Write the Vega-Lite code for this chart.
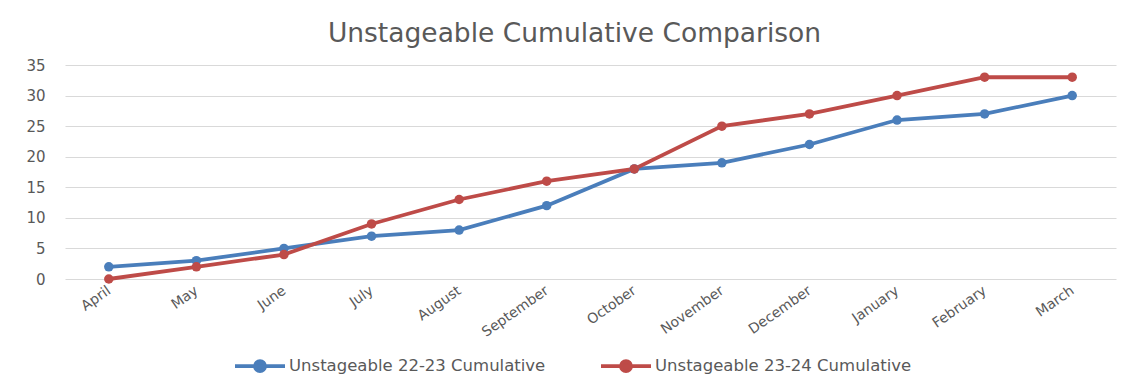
{
  "$schema": "https://vega.github.io/schema/vega-lite/v6.json",
  "width": 1051,
  "height": 214,
  "autosize": {"type": "none"},
  "padding": {"left": 65, "top": 65, "right": 14, "bottom": 104},
  "background": "white",
  "title": {
    "text": "Unstageable Cumulative Comparison",
    "font": "DejaVu Sans",
    "fontSize": 26.5,
    "fontWeight": "normal",
    "color": "#595959",
    "anchor": "middle",
    "dx": -16,
    "offset": 11
  },
  "data": {
    "values": [
      {"month": "April", "series": "Unstageable 22-23 Cumulative", "count": 2},
      {"month": "May", "series": "Unstageable 22-23 Cumulative", "count": 3},
      {"month": "June", "series": "Unstageable 22-23 Cumulative", "count": 5},
      {"month": "July", "series": "Unstageable 22-23 Cumulative", "count": 7},
      {"month": "August", "series": "Unstageable 22-23 Cumulative", "count": 8},
      {"month": "September", "series": "Unstageable 22-23 Cumulative", "count": 12},
      {"month": "October", "series": "Unstageable 22-23 Cumulative", "count": 18},
      {"month": "November", "series": "Unstageable 22-23 Cumulative", "count": 19},
      {"month": "December", "series": "Unstageable 22-23 Cumulative", "count": 22},
      {"month": "January", "series": "Unstageable 22-23 Cumulative", "count": 26},
      {"month": "February", "series": "Unstageable 22-23 Cumulative", "count": 27},
      {"month": "March", "series": "Unstageable 22-23 Cumulative", "count": 30},
      {"month": "April", "series": "Unstageable 23-24 Cumulative", "count": 0},
      {"month": "May", "series": "Unstageable 23-24 Cumulative", "count": 2},
      {"month": "June", "series": "Unstageable 23-24 Cumulative", "count": 4},
      {"month": "July", "series": "Unstageable 23-24 Cumulative", "count": 9},
      {"month": "August", "series": "Unstageable 23-24 Cumulative", "count": 13},
      {"month": "September", "series": "Unstageable 23-24 Cumulative", "count": 16},
      {"month": "October", "series": "Unstageable 23-24 Cumulative", "count": 18},
      {"month": "November", "series": "Unstageable 23-24 Cumulative", "count": 25},
      {"month": "December", "series": "Unstageable 23-24 Cumulative", "count": 27},
      {"month": "January", "series": "Unstageable 23-24 Cumulative", "count": 30},
      {"month": "February", "series": "Unstageable 23-24 Cumulative", "count": 33},
      {"month": "March", "series": "Unstageable 23-24 Cumulative", "count": 33}
    ]
  },
  "mark": {
    "type": "line",
    "strokeWidth": 3.8,
    "point": {"filled": true, "size": 90}
  },
  "encoding": {
    "x": {
      "field": "month",
      "type": "ordinal",
      "sort": null,
      "scale": {"type": "point", "padding": 0.5},
      "axis": {
        "title": null,
        "domain": false,
        "ticks": false,
        "grid": false,
        "labelAngle": -35,
        "labelAlign": "right",
        "labelBaseline": "middle",
        "labelPadding": 10,
        "labelFont": "DejaVu Sans",
        "labelFontSize": 14,
        "labelColor": "#595959"
      }
    },
    "y": {
      "field": "count",
      "type": "quantitative",
      "scale": {"domain": [0, 35], "nice": false},
      "axis": {
        "title": null,
        "values": [0, 5, 10, 15, 20, 25, 30, 35],
        "domain": false,
        "ticks": false,
        "grid": true,
        "gridColor": "#d9d9d9",
        "gridWidth": 1,
        "labelPadding": 20,
        "labelFont": "DejaVu Sans",
        "labelFontSize": 15,
        "labelColor": "#595959"
      }
    },
    "color": {
      "field": "series",
      "type": "nominal",
      "scale": {
        "domain": ["Unstageable 22-23 Cumulative", "Unstageable 23-24 Cumulative"],
        "range": ["#4A7EBB", "#BE4B48"]
      },
      "legend": {
        "title": null,
        "orient": "none",
        "direction": "horizontal",
        "legendX": 168,
        "legendY": 274,
        "columns": 2,
        "columnPadding": 47,
        "symbolType": "M-1,0H1M0.2,0A0.2,0.2 0 1,1 -0.2,0A0.2,0.2 0 1,1 0.2,0Z",
        "symbolSize": 2500,
        "symbolStrokeWidth": 3.8,
        "labelFont": "DejaVu Sans",
        "labelFontSize": 16.5,
        "labelColor": "#595959",
        "labelOffset": 2,
        "labelLimit": 400,
        "encode": {
          "symbols": {
            "update": {
              "fill": {"scale": "color", "field": "value"},
              "stroke": {"scale": "color", "field": "value"},
              "fillOpacity": {"value": 1}
            }
          }
        }
      }
    }
  },
  "config": {
    "view": {"stroke": null}
  }
}
